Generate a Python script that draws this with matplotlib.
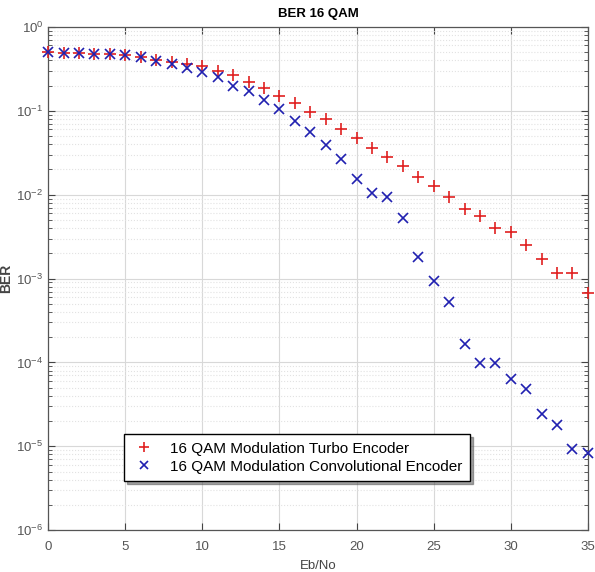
import numpy as np
import matplotlib.pyplot as plt
from matplotlib.ticker import LogLocator, MultipleLocator, NullFormatter

plt.rcParams["font.family"] = ["Liberation Sans", "DejaVu Sans"]

ebno = np.arange(0, 36)

ber_turbo = [
    0.50, 0.49, 0.49, 0.48, 0.47, 0.46, 0.44, 0.40, 0.38, 0.36,
    0.34, 0.30, 0.268, 0.222, 0.185, 0.151, 0.123, 0.0976, 0.079, 0.0607,
    0.047, 0.0363, 0.0283, 0.0219, 0.0164, 0.0127, 0.0093, 0.0067, 0.0056, 0.0040,
    0.00355, 0.0025, 0.0017, 0.00117, 0.00115, 0.00068,
]
ber_conv = [
    0.50, 0.49, 0.49, 0.48, 0.47, 0.46, 0.44, 0.39, 0.36, 0.327,
    0.293, 0.255, 0.199, 0.174, 0.134, 0.104, 0.0754, 0.0554, 0.039, 0.0266,
    0.0153, 0.0104, 0.0093, 0.0053, 0.0018, 0.00094, 0.00053, 0.000165, 9.8e-5, 9.8e-5,
    6.3e-5, 4.8e-5, 2.46e-5, 1.82e-5, 9.4e-6, 8.4e-6,
]

labels = ["16 QAM Modulation Turbo Encoder", "16 QAM Modulation Convolutional Encoder"]

fig = plt.figure(figsize=(5.95, 5.72), dpi=100)
ax = fig.add_axes([0.081, 0.073, 0.907, 0.880])

ax.semilogy(ebno, ber_turbo, "+", color="#e02020", markersize=8, markeredgewidth=1.2,
            label=labels[0], clip_on=False, zorder=3)
ax.semilogy(ebno, ber_conv, "x", color="#2020b0", markersize=6.5, markeredgewidth=1.2,
            label=labels[1], clip_on=False, zorder=3)

ax.set_xlim(0, 35)
ax.set_ylim(1e-6, 1)
ax.xaxis.set_major_locator(MultipleLocator(5))
ax.yaxis.set_major_locator(LogLocator(base=10, numticks=10))
ax.yaxis.set_minor_locator(LogLocator(base=10, subs=np.arange(2, 10), numticks=20))
ax.yaxis.set_minor_formatter(NullFormatter())

ax.grid(True, which="major", color="#d8d8d8", linewidth=0.8)
ax.grid(True, which="minor", axis="y", color="#e2e2e2", linestyle=":", linewidth=0.8)
ax.set_axisbelow(True)

ax.tick_params(which="both", direction="in", top=True, right=True,
               labelsize=9.5, labelcolor="#555555", color="#444444")
ax.tick_params(which="major", length=5)
ax.tick_params(which="minor", length=3)
ax.tick_params(axis="x", pad=8)
for s in ax.spines.values():
    s.set_color("#555555")
    s.set_linewidth(0.9)

ax.set_title("BER 16 QAM", fontsize=9.5, fontweight="bold", pad=7)
ax.set_xlabel("Eb/No", fontsize=9.5, color="#444444", labelpad=5)
ax.set_ylabel("BER", fontsize=10, fontweight="bold", color="#444444", labelpad=2)

leg = ax.legend(loc="upper left", bbox_to_anchor=(0.141, 0.191), borderaxespad=0,
                fancybox=False, shadow=True, framealpha=1, edgecolor="black",
                borderpad=0.5, handlelength=1.6, handletextpad=0.9, labelspacing=0.25,
                markerscale=0.9, prop={"size": 11})
leg.get_frame().set_linewidth(1.0)

fig.savefig("out.png", dpi=100)
